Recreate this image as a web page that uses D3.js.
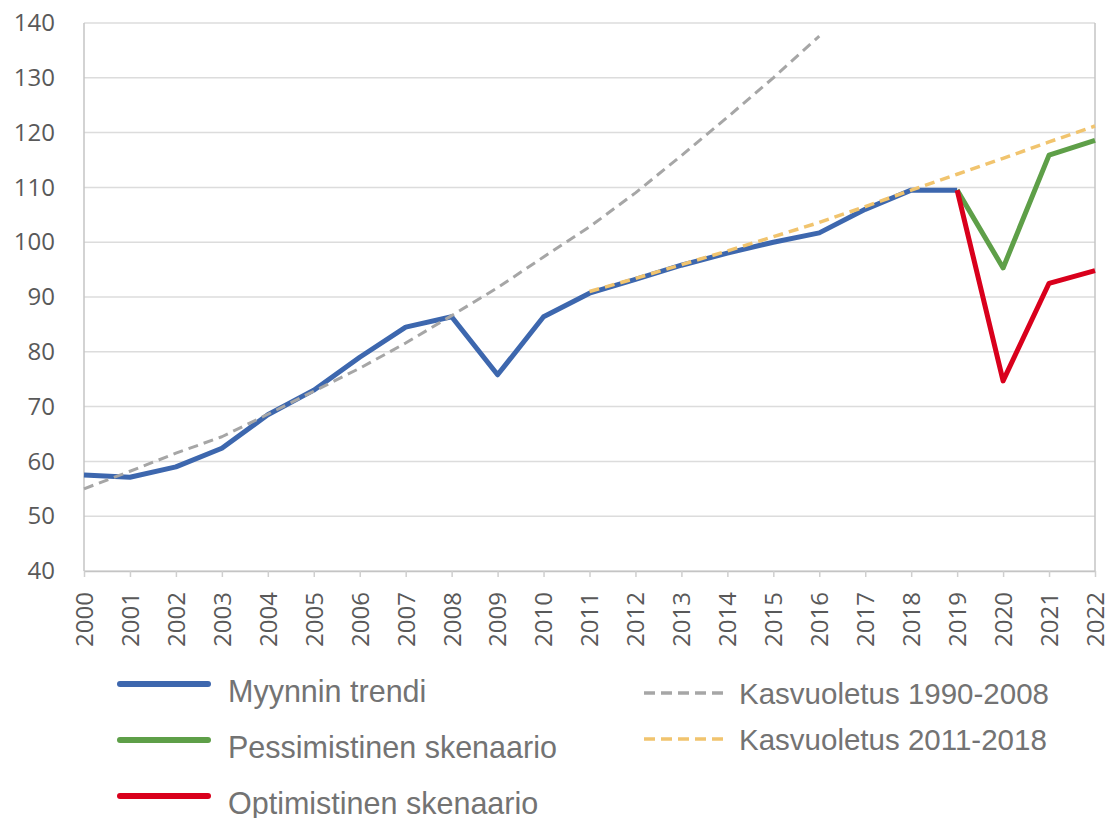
<!DOCTYPE html>
<html>
<head>
<meta charset="utf-8">
<script src="https://cdn.jsdelivr.net/npm/d3@7"></script>
<style>
  body { margin: 0; background: #fff; }
  svg { display: block; }
</style>
</head>
<body>
<svg width="1113" height="818"></svg>
<script>
// data
var years = d3.range(2000, 2023);
var yTicks = [40, 50, 60, 70, 80, 90, 100, 110, 120, 130, 140];

var trendYears = d3.range(2000, 2020);
var trendValues = [57.5, 57.1, 59.0, 62.4, 68.5, 73.0, 79.0, 84.5, 86.4, 75.8,
                   86.4, 90.7, 93.2, 95.8, 98.0, 100.0, 101.7, 106.0, 109.5, 109.5];

var scenarioYears = [2019, 2020, 2021, 2022];
var pessimisticValues = [109.5, 95.3, 115.9, 118.6];
var optimisticValues = [109.5, 74.7, 92.5, 94.8];

var growth1Years = d3.range(2000, 2017);
var growth1Values = [55.0, 58.2, 61.5, 64.5, 68.6, 72.8, 77.0, 81.6, 86.6, 91.7,
                     97.3, 102.8, 109.0, 115.8, 122.8, 130.0, 137.6];

var growth2Years = d3.range(2011, 2023);
var growth2Values = [91.0, 93.4, 95.9, 98.4, 101.0, 103.6, 106.5, 109.5, 112.4, 115.3, 118.3, 121.2];

var svg = d3.select("svg");
var plotLeft = 84, plotRight = 1095, plotTop = 23, plotBottom = 571;

var x = d3.scaleLinear().domain([2000, 2022]).range([plotLeft, plotRight]);
var y = d3.scaleLinear().domain([40, 140]).range([plotBottom, plotTop]);

// grid
svg.append("g")
  .selectAll("line")
  .data(yTicks)
  .enter()
  .append("line")
    .attr("x1", plotLeft)
    .attr("x2", plotRight)
    .attr("y1", function (d) { return y(d); })
    .attr("y2", function (d) { return y(d); })
    .attr("stroke", "#dcdcdc")
    .attr("stroke-width", 1.5);

// left & right frame
svg.append("line").attr("x1", plotLeft).attr("x2", plotLeft).attr("y1", plotTop).attr("y2", plotBottom)
  .attr("stroke", "#c4c4c4").attr("stroke-width", 1.5);
svg.append("line").attr("x1", plotRight).attr("x2", plotRight).attr("y1", plotTop).attr("y2", plotBottom)
  .attr("stroke", "#c4c4c4").attr("stroke-width", 1.5);

// x axis
var xAxis = svg.append("g")
  .attr("transform", "translate(0," + plotBottom + ")")
  .call(d3.axisBottom(x).tickValues(years).tickFormat(d3.format("d")).tickSizeInner(6).tickSizeOuter(0));
xAxis.select(".domain").attr("stroke", "#c4c4c4").attr("stroke-width", 1.5);
xAxis.selectAll(".tick line").attr("stroke", "#cfcfcf").attr("stroke-width", 1.5);
xAxis.selectAll(".tick text")
  .attr("transform", "rotate(-90)")
  .attr("x", -21)
  .attr("y", 0)
  .attr("dy", "0.35em")
  .attr("text-anchor", "end")
  .attr("fill", "#595959")
  .attr("font-family", "'Open Sans', sans-serif")
  .attr("font-size", "24px");

// y axis labels
var yAxis = svg.append("g")
  .attr("transform", "translate(" + plotLeft + ",0)")
  .call(d3.axisLeft(y).tickValues(yTicks).tickSize(0).tickPadding(29));
yAxis.select(".domain").remove();
yAxis.selectAll(".tick text")
  .attr("fill", "#595959")
  .attr("font-family", "'Open Sans', sans-serif")
  .attr("font-size", "24px");

var line = d3.line()
  .x(function (d) { return x(d[0]); })
  .y(function (d) { return y(d[1]); });

function drawSeries(xs, vals, color, width, dash) {
  svg.append("path")
    .datum(d3.zip(xs, vals))
    .attr("fill", "none")
    .attr("stroke", color)
    .attr("stroke-width", width)
    .attr("stroke-linejoin", "round")
    .attr("stroke-dasharray", dash)
    .attr("d", line);
}

var blue = "#3d67ae", green = "#5e9f48", red = "#d9001c", gray = "#a6a6a6", gold = "#f1c46e";

drawSeries(trendYears, trendValues, blue, 5, null);
drawSeries(scenarioYears, pessimisticValues, green, 5, null);
drawSeries(scenarioYears, optimisticValues, red, 5, null);
drawSeries(growth1Years, growth1Values, gray, 3, "10,6");
drawSeries(growth2Years, growth2Values, gold, 3.5, "10,6");

// legend
var legendLeft = [
  {name: "Myynnin trendi", color: blue, y: 684},
  {name: "Pessimistinen skenaario", color: green, y: 740},
  {name: "Optimistinen skenaario", color: red, y: 796}
];
var legendRight = [
  {name: "Kasvuoletus 1990-2008", color: gray, y: 693, dash: "11,6"},
  {name: "Kasvuoletus 2011-2018", color: gold, y: 739, dash: "11,6"}
];

var lg = svg.append("g");
lg.selectAll("line.l")
  .data(legendLeft)
  .enter()
  .append("line")
    .attr("x1", 120).attr("x2", 208)
    .attr("y1", function (d) { return d.y; })
    .attr("y2", function (d) { return d.y; })
    .attr("stroke", function (d) { return d.color; })
    .attr("stroke-width", 6)
    .attr("stroke-linecap", "round");
lg.selectAll("text.l")
  .data(legendLeft)
  .enter()
  .append("text")
    .attr("x", 228)
    .attr("y", function (d) { return d.y + 18; })
    .attr("fill", "#737373")
    .attr("font-family", "'Liberation Sans', Arial, sans-serif")
    .attr("font-size", "30.5px")
    .text(function (d) { return d.name; });

lg.selectAll("line.r")
  .data(legendRight)
  .enter()
  .append("line")
    .attr("x1", 644).attr("x2", 726)
    .attr("y1", function (d) { return d.y; })
    .attr("y2", function (d) { return d.y; })
    .attr("stroke", function (d) { return d.color; })
    .attr("stroke-width", 3.5)
    .attr("stroke-dasharray", function (d) { return d.dash; });
lg.selectAll("text.r")
  .data(legendRight)
  .enter()
  .append("text")
    .attr("x", 739)
    .attr("y", function (d) { return d.y + 11; })
    .attr("fill", "#737373")
    .attr("font-family", "'Liberation Sans', Arial, sans-serif")
    .attr("font-size", "29.5px")
    .text(function (d) { return d.name; });
</script>
</body>
</html>
